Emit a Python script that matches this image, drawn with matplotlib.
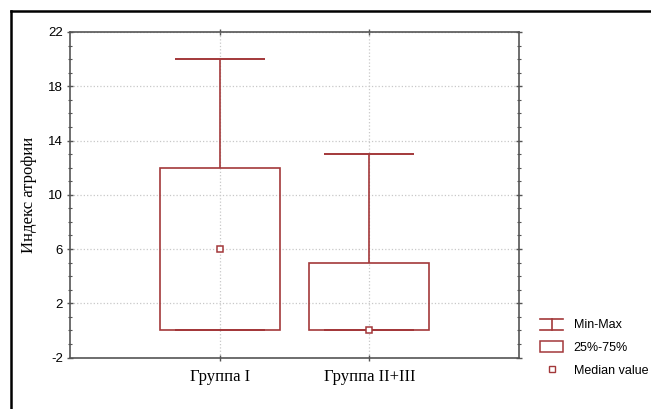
import matplotlib
matplotlib.use("Agg")
import matplotlib.pyplot as plt
from matplotlib.lines import Line2D
from matplotlib.patches import Rectangle, Patch
from matplotlib.legend_handler import HandlerBase
from matplotlib.ticker import MultipleLocator

plt.rcParams['axes.unicode_minus'] = False

# ---- data ----
categories = ['Группа I', 'Группа II+III']
mins = [0, 0]
q1 = [0, 0]
q3 = [12, 5]
maxs = [20, 13]
medians = [6, 0]
legend_labels = ['Min-Max', '25%-75%', 'Median value']
y_label = 'Индекс атрофии'

RED = '#a3383a'
SERIF = ['Liberation Serif', 'DejaVu Serif']
SANS = ['Liberation Sans', 'DejaVu Sans']

fig = plt.figure(figsize=(6.51, 4.09), dpi=100)
fig.patch.set_facecolor('white')

W, H = 651, 409
ax = fig.add_axes([70 / W, 1 - 357.5 / H, (519 - 70) / W, (357.5 - 32) / H])

pos = [1, 2]
box_w = 0.8
cap_w = 0.6

# boxes (25%-75%)
ax.bar(pos, [b - a for a, b in zip(q1, q3)], bottom=q1, width=box_w,
       fill=False, edgecolor=RED, linewidth=1.2, zorder=3)
# whiskers
ax.vlines(pos, q3, maxs, color=RED, linewidth=1.2, zorder=3)
ax.vlines(pos, mins, q1, color=RED, linewidth=1.2, zorder=3)
# caps
for p, lo, hi in zip(pos, mins, maxs):
    ax.hlines([lo, hi], p - cap_w / 2, p + cap_w / 2, color=RED, linewidth=1.4, zorder=3)
# medians
ax.plot(pos, medians, linestyle='none', marker='s', markersize=5,
        markerfacecolor='white', markeredgecolor=RED, markeredgewidth=1.1, zorder=4)

ax.set_xlim(0, 3)
ax.set_ylim(-2, 22)
ax.set_xticks(pos)
ax.set_xticklabels(categories, fontfamily=SERIF, fontsize=12)
ax.set_yticks(range(-2, 23, 4))
ax.yaxis.set_minor_locator(MultipleLocator(1))
for lab in ax.get_yticklabels():
    lab.set_fontfamily(SANS)
    lab.set_fontsize(9.5)
ax.set_ylabel(y_label, fontfamily=SERIF, fontsize=12, labelpad=8)

ax.grid(True, which='major', color='#c8c8c8', linestyle=':', linewidth=0.9, zorder=0)
ax.set_axisbelow(True)

for s in ax.spines.values():
    s.set_color('#555555')
    s.set_linewidth(1.2)

ax.tick_params(axis='y', which='major', left=True, right=True, direction='inout',
               length=4, width=1, color='#555555', pad=3)
ax.tick_params(axis='y', which='minor', left=True, right=True, direction='inout',
               length=3, width=0.8, color='#555555')
ax.tick_params(axis='x', which='major', bottom=True, top=True, direction='inout',
               length=4, width=1, color='#555555', pad=6)


class HandlerMinMax(HandlerBase):
    def create_artists(self, legend, orig_handle, xdescent, ydescent, width, height,
                       fontsize, trans):
        h = 8.0
        yc = -ydescent + height / 2
        y0, y1 = yc - h / 2, yc + h / 2
        xm = -xdescent + width / 2
        l1 = Line2D([-xdescent, -xdescent + width], [y0, y0], color=RED, lw=1.2)
        l2 = Line2D([-xdescent, -xdescent + width], [y1, y1], color=RED, lw=1.2)
        l3 = Line2D([xm, xm], [y0, y1], color=RED, lw=1.2)
        for a in (l1, l2, l3):
            a.set_transform(trans)
        return [l1, l2, l3]


class HandlerBox(HandlerBase):
    def create_artists(self, legend, orig_handle, xdescent, ydescent, width, height,
                       fontsize, trans):
        h = 8.0
        yc = -ydescent + height / 2
        r = Rectangle((-xdescent, yc - h / 2), width, h, fill=False, edgecolor=RED,
                      lw=1.1, transform=trans)
        return [r]


mm_handle = Line2D([], [], color=RED)
box_handle = Patch(fill=False, edgecolor=RED)
med_handle = Line2D([], [], linestyle='none', marker='s', markersize=4,
                    markerfacecolor='white', markeredgecolor=RED, markeredgewidth=1.0)

leg = fig.legend([mm_handle, box_handle, med_handle], legend_labels,
                 handler_map={mm_handle: HandlerMinMax(), box_handle: HandlerBox()},
                 loc='upper left', bbox_to_anchor=(540 / W, 1 - 319 / H),
                 frameon=False, borderpad=0, borderaxespad=0,
                 handlelength=1.85, handleheight=0.9, handletextpad=0.85,
                 labelspacing=0.8, prop={'family': SANS, 'size': 9})

# outer frame (cropped on right and bottom)
fig.add_artist(Line2D([11 / W, 11 / W], [0, 1 - 11 / H], transform=fig.transFigure,
                      color='black', lw=1.8))
fig.add_artist(Line2D([11 / W, 1], [1 - 11 / H, 1 - 11 / H], transform=fig.transFigure,
                      color='black', lw=1.8))

fig.savefig('out.png', dpi=100, facecolor='white')
